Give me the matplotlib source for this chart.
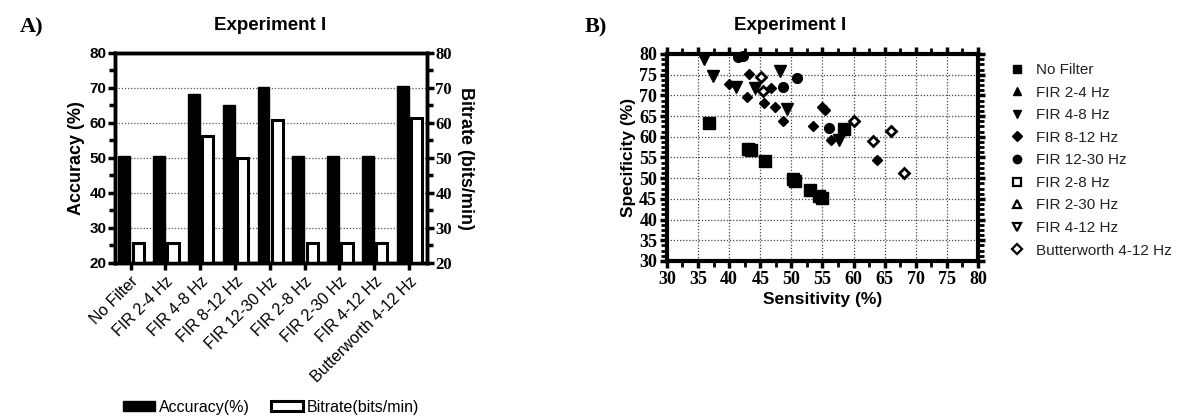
import matplotlib
matplotlib.use("Agg")
import matplotlib.pyplot as plt
import numpy as np
from matplotlib.patches import Patch
from matplotlib.ticker import MultipleLocator

# ---------------- data ----------------
categories = ["No Filter", "FIR 2-4 Hz", "FIR 4-8 Hz", "FIR 8-12 Hz", "FIR 12-30 Hz",
              "FIR 2-8 Hz", "FIR 2-30 Hz", "FIR 4-12 Hz", "Butterworth 4-12 Hz"]
accuracy = [50.5, 50.5, 68.2, 65.1, 70.3, 50.5, 50.5, 50.5, 70.6]
bitrate = [25.8, 25.8, 56.2, 49.9, 60.9, 25.8, 25.8, 25.8, 61.4]

series_names = ["No Filter", "FIR 2-4 Hz", "FIR 4-8 Hz", "FIR 8-12 Hz", "FIR 12-30 Hz",
                "FIR 2-8 Hz", "FIR 2-30 Hz", "FIR 4-12 Hz", "Butterworth 4-12 Hz"]
sens_nofilter = [36.8, 43.0, 43.5, 45.8, 50.3, 50.6, 53.0, 54.5, 55.0, 58.4]
spec_nofilter = [63.3, 57.0, 56.8, 54.2, 49.8, 49.4, 47.2, 45.8, 45.3, 61.8]
sens_fir24 = []
spec_fir24 = []
sens_fir48 = [36.0, 37.4, 41.1, 44.1, 48.2, 49.3, 57.7]
spec_fir48 = [78.7, 74.7, 72.0, 71.7, 76.0, 66.6, 59.3]
sens_fir812 = [43.2, 40.0, 42.8, 45.6, 47.4, 46.8, 48.7, 54.9, 55.4, 53.4, 56.4, 63.8]
spec_fir812 = [75.1, 72.7, 69.5, 68.1, 67.3, 71.9, 63.7, 67.3, 66.5, 62.6, 59.2, 54.4]
sens_fir1230 = [41.5, 42.3, 50.9, 48.6, 56.1]
spec_fir1230 = [79.2, 79.4, 74.3, 72.0, 62.2]
sens_fir28 = []
spec_fir28 = []
sens_fir230 = []
spec_fir230 = []
sens_fir412 = []
spec_fir412 = []
sens_butter = [45.1, 45.5, 60.0, 66.0, 63.2, 68.1]
spec_butter = [74.4, 71.1, 63.8, 61.4, 59.0, 51.3]

# ---------------- figure ----------------
plt.rcParams['font.family'] = ['Liberation Sans', 'DejaVu Sans']
fig = plt.figure(figsize=(11.84, 4.16), dpi=100)

# ---------- Panel A ----------
axA = fig.add_axes([0.0971, 0.3678, 0.2635, 0.5048])
axA2 = axA.twinx()
x = np.arange(len(categories))
w = 0.34
axA.bar(x - w / 2 - 0.01, accuracy, width=w, color='black', edgecolor='black',
        linewidth=1.0, zorder=3)
axA2.bar(x + w / 2 + 0.05, bitrate, width=w * 0.95, color='white', edgecolor='black',
         linewidth=2.2, zorder=3)
for a in (axA, axA2):
    a.set_ylim(20, 80)
    a.set_xlim(-0.45, 8.52)
    for s in a.spines.values():
        s.set_linewidth(2.5)
axA.set_zorder(axA2.get_zorder() + 1)
axA.patch.set_visible(False)
axA.yaxis.set_major_locator(MultipleLocator(10))
axA.yaxis.set_minor_locator(MultipleLocator(5))
axA2.yaxis.set_major_locator(MultipleLocator(10))
axA2.yaxis.set_minor_locator(MultipleLocator(5))
for yv in range(30, 80, 10):
    axA2.axhline(yv, color='#555555', linestyle=(0, (1, 1.5)), linewidth=0.9, zorder=1)
axA.set_xticks(x)
axA.set_xticklabels(categories, rotation=45, ha='right', rotation_mode='anchor',
                    fontsize=11.5)
axA.tick_params(axis='x', length=5, width=2.5, pad=3)
axA.tick_params(axis='y', which='major', length=5, width=2.5, pad=1, labelsize=11)
axA.tick_params(axis='y', which='minor', length=4, width=2.5)
axA2.tick_params(axis='y', which='major', length=5, width=2.5, pad=1, labelsize=12)
axA2.tick_params(axis='y', which='minor', length=4, width=2.5)
for lab in axA.get_yticklabels():
    lab.set_fontweight('bold')
for lab in axA2.get_yticklabels():
    lab.set_fontfamily(['Liberation Serif'])
    lab.set_fontweight('bold')
axA.set_ylabel("Accuracy (%)", fontsize=13, fontweight='bold', labelpad=3)
axA2.set_ylabel("Bitrate (bits/min)", fontsize=13, fontweight='bold', rotation=270,
                labelpad=16)
fig.text(270 / 1184, 1 - 25 / 416, "Experiment I", ha='center', va='center',
         fontsize=13.5, fontweight='bold')
fig.text(20 / 1184, 1 - 27 / 416, "A)", ha='left', va='center', fontsize=16,
         fontweight='bold', family=['Liberation Serif'])
handles = [Patch(facecolor='black', edgecolor='black', label='Accuracy(%)'),
           Patch(facecolor='white', edgecolor='black', linewidth=2.2,
                 label='Bitrate(bits/min)')]
fig.legend(handles=handles, loc='lower left', bbox_to_anchor=(117 / 1184, -0.013),
           ncol=2, frameon=False, fontsize=11.5, handlelength=2.0, handleheight=0.6,
           handletextpad=0.25, columnspacing=1.3, borderaxespad=0)

# ---------- Panel B ----------
axB = fig.add_axes([0.5633, 0.3726, 0.2627, 0.4976])
axB.set_xlim(30, 80)
axB.set_ylim(30, 80)
axB.xaxis.set_major_locator(MultipleLocator(5))
axB.xaxis.set_minor_locator(MultipleLocator(2.5))
axB.yaxis.set_major_locator(MultipleLocator(5))
axB.yaxis.set_minor_locator(MultipleLocator(1.25))
axB.grid(True, which='major', color='#444444', linestyle=(0, (1, 1.5)), linewidth=0.9)
axB.set_axisbelow(True)
for s in axB.spines.values():
    s.set_linewidth(3)
axB.tick_params(which='major', length=5, width=2.5, top=True, right=True,
                labelsize=13, pad=2)
axB.tick_params(which='minor', length=4, width=2.0, top=True, right=True)
for lab in axB.get_xticklabels() + axB.get_yticklabels():
    lab.set_fontfamily(['Liberation Serif'])
    lab.set_fontweight('bold')
axB.set_xlabel("Sensitivity (%)", fontsize=12.5, fontweight='bold', labelpad=3)
axB.set_ylabel("Specificity (%)", fontsize=12.5, fontweight='bold', labelpad=2)
fig.text(790 / 1184, 1 - 25 / 416, "Experiment I", ha='center', va='center',
         fontsize=13.5, fontweight='bold')
fig.text(585 / 1184, 1 - 27 / 416, "B)", ha='left', va='center', fontsize=16,
         fontweight='bold', family=['Liberation Serif'])

series = [
    (sens_nofilter, spec_nofilter, 's', 'black', 'black', 9, 1.0),
    (sens_fir24, spec_fir24, '^', 'black', 'black', 7, 1.0),
    (sens_fir48, spec_fir48, 'v', 'black', 'black', 8, 1.0),
    (sens_fir812, spec_fir812, 'D', 'black', 'black', 5.5, 1.0),
    (sens_fir1230, spec_fir1230, 'o', 'black', 'black', 7, 1.0),
    (sens_fir28, spec_fir28, 's', 'white', 'black', 6, 1.8),
    (sens_fir230, spec_fir230, '^', 'white', 'black', 6, 1.8),
    (sens_fir412, spec_fir412, 'v', 'white', 'black', 6, 1.8),
    (sens_butter, spec_butter, 'D', 'white', 'black', 5.5, 2.0),
]
legend_sizes = [6, 6, 6, 5, 6, 5.5, 5.5, 5.5, 5]
leg_handles = []
for (sx, sy, m, fc, ec, ms, lw), name, lsz in zip(series, series_names, legend_sizes):
    axB.plot(sx, sy, linestyle='none', marker=m, markerfacecolor=fc,
             markeredgecolor=ec, markersize=ms, markeredgewidth=lw, clip_on=False,
             zorder=3)
    h, = axB.plot([], [], linestyle='none', marker=m, markerfacecolor=fc,
                  markeredgecolor=ec, markersize=lsz,
                  markeredgewidth=1.6 if fc == 'white' else 1.0, label=name)
    leg_handles.append(h)
fig.legend(handles=leg_handles, loc='upper left', bbox_to_anchor=(1002 / 1184, 1 - 57 / 416),
           frameon=False, fontsize=11, labelspacing=0.56, handlelength=1.2,
           handletextpad=0.6, borderaxespad=0, labelcolor='#222222')

fig.savefig("out.png", dpi=100)
